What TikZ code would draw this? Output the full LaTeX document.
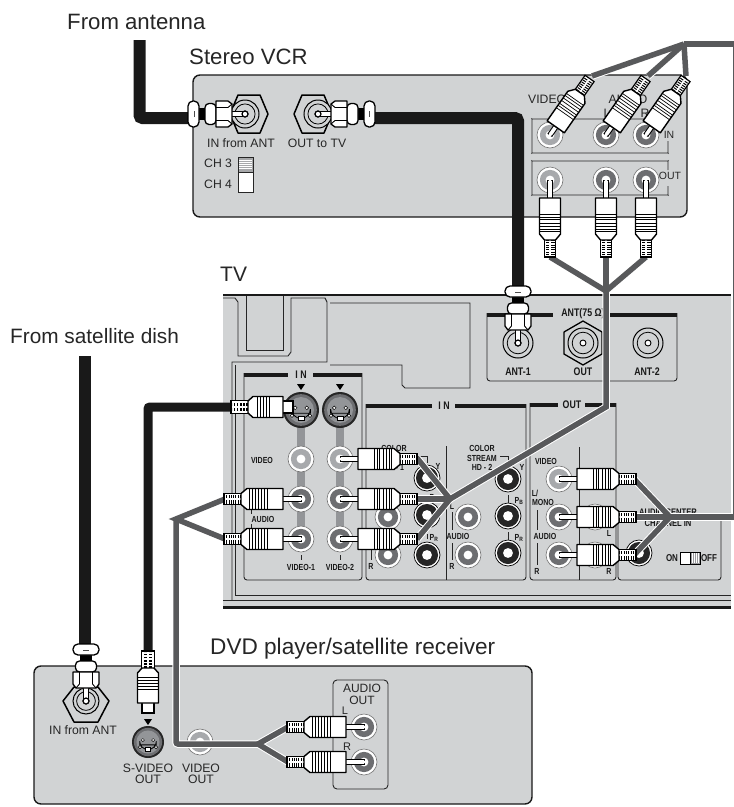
\documentclass[tikz,border=0pt]{standalone}
\usepackage{fontspec}
\setmainfont{Liberation Sans}
\newfontfamily\tvfont[FakeStretch=0.8]{Liberation Sans}
\definecolor{panel}{HTML}{D1D3D4}
\definecolor{cablegray}{HTML}{58595B}
\definecolor{ringlight}{HTML}{A7A9AC}
\definecolor{ringdark}{HTML}{6D6E71}
\definecolor{busgray}{HTML}{939598}
\tikzset{
  bigt/.style={inner sep=0,anchor=base west,font=\fontsize{22.2}{24}\selectfont,text=black!85},
  devt/.style={inner sep=0,font=\fontsize{12.2}{13}\selectfont,text=black!85,align=center},
  tvt/.style={inner sep=0,font=\fontsize{8.8}{9.2}\selectfont\tvfont\bfseries,text=black!90,align=center},
  tvb/.style={inner sep=0,font=\fontsize{11}{12}\selectfont\tvfont\bfseries,text=black!90},
  devbox/.style={fill=panel,draw=black!90,line width=1.4,rounded corners=7},
  subbox/.style={draw=black!85,line width=.9,rounded corners=2.5},
  band/.style={draw=black!90,line width=4.5},
  thin/.style={draw=black!85,line width=.9},
  cablehalo/.style={draw=white,line width=7.5,line join=miter},
  cablecore/.style={draw=cablegray,line width=5.5,line join=miter},
  coaxline/.style={draw=black!90,line width=12,rounded corners=3},
}
\newcommand\jackrca[4]{% x y r ringcolour
  \begin{scope}[shift={(#1,#2)}]
    \filldraw[fill=white,draw=black!55,line width=.6] (0,0) circle (#3);
    \fill[#4] (0,0) circle ({#3*.78});
    \fill[white] (0,0) circle ({#3*.34});
  \end{scope}}
\newcommand\jackblack[3]{% x y r
  \begin{scope}[shift={(#1,#2)}]
    \filldraw[fill=white,draw=black,line width=.7] (0,0) circle (#3);
    \fill[black!85] (0,0) circle ({#3*.85});
    \fill[white] (0,0) circle ({#3*.38});
  \end{scope}}
\newcommand\jacksv[3]{% x y r
  \begin{scope}[shift={(#1,#2)}]
    \fill[black!85] (0,0) circle (#3);
    \fill[ringdark] (0,0) circle ({#3*.88});
    \fill[busgray] (0,0) circle ({#3*.72});
    \draw[black,line width=.8] ({-#3*.52},{#3*.18}) -- ({-#3*.52},{-#3*.05}) arc (180:0:{#3*.52}) -- ({#3*.52},{#3*.18}) -- cycle;
    \filldraw[fill=white,draw=black,line width=.6] ({-#3*.16},{#3*.34}) rectangle ({#3*.16},{#3*.58});
    \foreach \sx/\sy in {-.32/-.12,.32/-.12,-.5/.32,.5/.32}
      \filldraw[fill=white,draw=black,line width=.5] ({\sx*#3},{\sy*#3}) circle ({#3*.1});
  \end{scope}}
\newcommand\jackring[3]{% x y r
  \begin{scope}[shift={(#1,#2)}]
    \filldraw[fill=panel,draw=black,line width=1] (0,0) circle (#3);
    \draw[black,line width=.8] (0,0) circle ({#3*.72});
    \filldraw[fill=white,draw=black,line width=.9] (0,0) circle (3);
  \end{scope}}
\newcommand\rcaplug[4]{% x y angle pin-length
  \begin{scope}[shift={(#1,#2)},rotate=#3]
    \pgfmathsetmacro\pp{#4}
    \filldraw[fill=white,draw=black,line width=.9] (0,-2.4) rectangle ({\pp+1},2.4);
    \fill[white] (0,0) circle (1.6);
    \filldraw[fill=white,draw=black,line width=1.2] ({\pp+41},-5.5) rectangle ({\pp+59},5.5);
    \draw[black,line width=9,dash pattern=on 1 off 1.3] ({\pp+42},0) -- ({\pp+58},0);
    \draw[white,line width=1.6] ({\pp+42},0) -- ({\pp+58},0);
    \filldraw[fill=white,draw=black,line width=1.4,line join=round]
      (\pp,-10.5) -- ({\pp+36},-10.5) -- ({\pp+42},-5.5) -- ({\pp+42},5.5) -- ({\pp+36},10.5) -- (\pp,10.5) -- cycle;
    \foreach \q in {16,19,21.5,25,28,31,33.5}
      \draw[black,line width=.7] ({\pp+\q},-10.5) -- ({\pp+\q},10.5);
  \end{scope}}
\newcommand\coaxplug[3]{% x y angle
  \begin{scope}[shift={(#1,#2)},rotate=#3]
    \fill[black] (39,-6) rectangle (47,6);
    \filldraw[fill=white,draw=black,line width=1.3,rounded corners=4] (29,-10.5) rectangle (40,10.5);
    \filldraw[fill=white,draw=black,line width=1.1] (0,-2.2) rectangle (14,2.2);
    \filldraw[fill=white,draw=black,line width=1.2] (0,0) circle (3);
    \filldraw[fill=white,draw=black,line width=1.3,line join=round]
      (13,-10) -- (17,-13) -- (29,-13) -- (29,13) -- (17,13) -- (13,10) -- cycle;
    \draw[black,line width=.9] (17,-6.5) -- (29,-6.5) (17,6.5) -- (29,6.5) (13,-10) -- (17,-6.5) (13,10) -- (17,6.5);
    \filldraw[fill=white,draw=black,line width=1.3,rounded corners=5] (46,-13) rectangle (57,13);
    \draw[black!70,line width=.7] (51,-3) -- (51,3);
  \end{scope}}
\newcommand\hexv[2]{% x y: vertices left/right
  \filldraw[fill=panel,draw=black,line width=1.5,line join=round,shift={(#1,#2)}]
    (-19,0) -- (-11,-19) -- (11,-19) -- (19,0) -- (11,19) -- (-11,19) -- cycle;}
\newcommand\svplug[4]{% x y angle tip-start
  \begin{scope}[shift={(#1,#2)},rotate=#3]
    \pgfmathsetmacro\pp{#4}
    \filldraw[fill=white,draw=black,line width=1.3] (\pp,-6) rectangle ({\pp+12},6);
    \filldraw[fill=white,draw=black,line width=1.2] ({\pp+44},-6.5) rectangle ({\pp+62},6.5);
    \draw[black,line width=8,dash pattern=on 1.6 off 1.6] ({\pp+45},0) -- ({\pp+61},0);
    \draw[white,line width=1.4] ({\pp+45},0) -- ({\pp+61},0);
    \filldraw[fill=white,draw=black,line width=1.4,line join=round]
      ({\pp+10},-10.5) -- ({\pp+40},-10.5) -- ({\pp+45},-6) -- ({\pp+45},6) -- ({\pp+40},10.5) -- ({\pp+10},10.5) -- cycle;
    \foreach \q in {24,27,30,33,36}
      \draw[black,line width=.7] ({\pp+\q},-10.5) -- ({\pp+\q},10.5);
  \end{scope}}
\begin{document}
\begin{tikzpicture}[x=1pt,y=-1pt]
\useasboundingbox (0,0) rectangle (734,807);
\clip (0,0) rectangle (734,807);
\fill[white] (0,0) rectangle (734,807);

% ===== coordinates for connector ends
\coordinate (ant0) at (139.5,40);
\coordinate (antc) at (139.5,118);
\coordinate (antf) at (190,118);
\coordinate (vcrout) at (372,118);
\coordinate (vcrc) at (518,118);
\coordinate (tvant) at (518,288);
\coordinate (sat0) at (85,356);
\coordinate (satf) at (85,648);
\coordinate (sv0) at (230,407);
\coordinate (svc) at (148,407);
\coordinate (sv1) at (148,652);
\coordinate (jtop) at (684,44);
\coordinate (jtopr) at (736,44);
\coordinate (jrc) at (736,517);
\coordinate (jout) at (670,517);
\coordinate (pv1) at (592,76);
\coordinate (pv2) at (648,76);
\coordinate (pv3) at (686,76);
\coordinate (po1) at (550,257);
\coordinate (po2) at (606,257);
\coordinate (po3) at (646,257);
\coordinate (jvcr) at (606,291);
\coordinate (jvcr2) at (606,407);
\coordinate (jcomp) at (450,499);
\coordinate (pc1) at (417,458);
\coordinate (pc2) at (417,499);
\coordinate (pc3) at (417,539);
\coordinate (pa1) at (225,499);
\coordinate (pa2) at (225,539);
\coordinate (jaud) at (176,519);
\coordinate (jdvdc) at (176,744);
\coordinate (jdvd) at (258,744);
\coordinate (pd1) at (288,727);
\coordinate (pd2) at (288,762);
\coordinate (pt1) at (634,479);
\coordinate (pt2) at (634,517);
\coordinate (pt3) at (634,555);

% ===== headings
\node[bigt] (h1) at (67,29) {From antenna};
\node[bigt] (h2) at (189,64) {Stereo VCR};
\node[bigt,font=\fontsize{21}{24}\selectfont] (h3) at (220,281) {TV};
\node[bigt,font=\fontsize{20.8}{24}\selectfont] (h4) at (10,343) {From satellite dish};
\node[bigt,font=\fontsize{22.6}{24}\selectfont] (h5) at (210,654) {DVD player/satellite receiver};

% ===== VCR
\path[devbox] (193,75) rectangle (687,217);
\node[devt] (v1) at (241,143) {IN from ANT};
\node[devt] (v2) at (317,143) {OUT to TV};
\node[devt,anchor=west] (v3) at (204,163) {CH 3};
\node[devt,anchor=west] (v4) at (204,184) {CH 4};
\filldraw[fill=white,draw=black!85,line width=.8] (238,157.5) rectangle (253,192);
\filldraw[fill=ringdark!60,draw=black!85,line width=.8] (238,157.5) rectangle (253,172);
\foreach \q in {160,162,164,166,168} \draw[white,line width=.5] (239,\q) -- (252,\q);
\node[devt,anchor=west] (v5) at (528,99) {VIDEO};
\node[devt] (v6) at (628,99) {AUDIO};
\node[devt] (v7) at (607,113) {L};
\node[devt] (v8) at (645,113) {R};
\draw[subbox] (668,141) -- (668,150.5) arc (0:90:2.5) -- (534.5,153) arc (90:180:2.5) -- (532,121.5) arc (180:270:2.5) -- (668,119);
\draw[subbox] (668,170) -- (668,163.5) arc (0:-90:2.5) -- (534.5,161) arc (-90:-180:2.5) -- (532,192.5) arc (180:90:2.5) -- (665.5,195) arc (90:0:2.5) -- (668,186);
\node[devt,font=\fontsize{10.5}{11}\selectfont] (v9) at (669,135) {IN};
\node[devt,font=\fontsize{10.5}{11}\selectfont] (v10) at (670,176) {OUT};
\jackrca{550}{135}{13}{ringlight}\jackrca{606}{135}{13}{ringdark}\jackrca{646}{135}{13}{ringdark}
\jackrca{550}{180}{13}{ringlight}\jackrca{606}{180}{13}{ringdark}\jackrca{646}{180}{13}{ringdark}
\begin{scope}[shift={(4,0)}]\hexv{245}{114}\end{scope}
\begin{scope}[shift={(-5,0)}]\hexv{318}{114}\end{scope}
\jackring{245}{114}{14}
\jackring{318}{114}{14}

% ===== TV panel
\fill[panel] (223,295) rectangle (731,607);
\draw[black!90,line width=2.5] (223,295) -- (731,295);
\draw[black!90,line width=3] (223,607) -- (731,607);
\draw[thin] (223,298) -- (235,298) -- (238,302) -- (238,356) -- (288,356) -- (291,352) -- (291,298) -- (325,298) -- (327,302) -- (327,362) -- (232,362) -- (232,600);
\draw[thin] (235,365) -- (235,595) -- (731,595);
\draw[thin] (223,600) -- (731,600);
\draw[thin] (246,296) -- (246,350) -- (283,350) -- (283,296);
\draw[thin] (330,303) -- (470,303) -- (470,388) -- (405,388) -- (402,385) -- (402,365) -- (330,365);

% ANT box
\draw[subbox,rounded corners=3] (487,313) -- (487,381) -- (677,381) -- (677,313);
\draw[band] (487,315) -- (553,315);
\draw[band] (608,315) -- (677,315);
\node[tvb] (t1) at (583,314) {ANT(75 Ω)};
\jackring{518}{343}{15}
\filldraw[fill=panel,draw=black,line width=1.3,line join=round] (583,321) -- (602,332) -- (602,354) -- (583,365) -- (564,354) -- (564,332) -- cycle;
\jackring{583}{343}{15}
\jackring{648}{343}{15}
\node[tvb] (t2) at (518,372) {ANT-1};
\node[tvb] (t3) at (583,372) {OUT};
\node[tvb] (t4) at (647,372) {ANT-2};

% video IN box
\draw[subbox,rounded corners=3] (244,373) -- (244,580) -- (362,580) -- (362,373);
\draw[band] (244,375) -- (288,375);
\draw[band] (313,375) -- (362,375);
\node[tvb] (t5) at (301,375) {I N};
\fill[black] (297,384) -- (305,384) -- (301,390) -- cycle;
\fill[black] (336,384) -- (344,384) -- (340,390) -- cycle;
\fill[busgray] (297,425) rectangle (305,539);
\fill[busgray] (336,425) rectangle (344,539);
\jacksv{301}{410}{18}\jacksv{340}{410}{18}
\jackrca{301}{459}{13}{ringlight}\jackrca{340}{459}{13}{ringlight}
\jackrca{301}{499}{13}{ringdark}\jackrca{340}{499}{13}{ringdark}
\jackrca{301}{539}{13}{ringdark}\jackrca{340}{539}{13}{ringdark}
\node[tvt] (t6) at (262,460) {VIDEO};
\node[tvt] (t7) at (263,519) {AUDIO};
\draw[thin] (251,510) -- (251,514) (251,524) -- (251,528);
\draw[thin] (301,555) -- (301,560) (340,555) -- (340,560);
\node[tvt] (t8) at (301,567) {VIDEO-1};
\node[tvt] (t9) at (340,567) {VIDEO-2};

% component IN box
\draw[subbox,rounded corners=3] (366,404) -- (366,580) -- (526,580) -- (526,404);
\draw[band] (366,406) -- (432,406);
\draw[band] (455,406) -- (526,406);
\node[tvb] (t10) at (444,406) {I N};
\draw[thin] (446,446) -- (446,580);
\node[tvt] (t11) at (394,458) {COLOR\\STREAM\\HD - 1};
\draw[thin] (417,456) -- (427,456) -- (427,463);
\node[tvt] (t12) at (438,466) {Y};
\jackrca{388}{517}{13}{ringdark}\jackrca{388}{555}{13}{ringdark}
\jackblack{427}{478}{13}\jackblack{427}{515}{13}\jackblack{427}{555}{13}
\draw[thin] (427,495) -- (427,500) (427,534) -- (427,539);
\node[tvt] (t13) at (434,498) {P\textsubscript{B}};
\node[tvt] (t14) at (434,538) {P\textsubscript{R}};
\node[tvt] (t15) at (371,566) {R};
\draw[thin] (371,536) -- (371,560);
\node[tvt] (t16) at (482,458) {COLOR\\STREAM\\HD - 2};
\draw[thin] (500,456) -- (508,456) -- (508,461);
\node[tvt] (t17) at (522,467) {Y};
\jackrca{468}{517}{13}{ringdark}\jackrca{468}{555}{13}{ringdark}
\jackblack{508}{479}{13}\jackblack{508}{516}{13}\jackblack{508}{553}{13}
\draw[thin] (508,495) -- (508,503) (508,532) -- (508,540);
\node[tvt] (t18) at (519,501) {P\textsubscript{B}};
\node[tvt] (t19) at (519,538) {P\textsubscript{R}};
\node[tvt] (t20) at (452,506) {L};
\node[tvt] (t21) at (458,536) {AUDIO};
\node[tvt] (t22) at (452,566) {R};
\draw[thin] (452,512) -- (452,530) (452,543) -- (452,560);

% OUT box
\draw[subbox,rounded corners=3] (530,403) -- (530,580) -- (616,580) -- (616,403);
\draw[band] (530,405) -- (558,405);
\draw[band] (585,405) -- (616,405);
\node[tvb] (t23) at (572,405) {OUT};
\draw[thin] (579,447) -- (579,580);
\node[tvt] (t24) at (546,461) {VIDEO};
\node[tvt] (t25) at (535,493) {L/};
\node[tvt] (t26) at (543,502) {MONO};
\draw[thin] (537,510) -- (537,530) (537,543) -- (537,565);
\node[tvt] (t27) at (545,536) {AUDIO};
\node[tvt] (t28) at (537,571) {R};
\jackrca{559}{479}{13}{ringlight}\jackrca{559}{517}{13}{ringdark}\jackrca{559}{555}{13}{ringdark}
\jackrca{595}{517}{13}{ringdark}\jackrca{595}{555}{13}{ringdark}
\node[tvt] (t29) at (609,533) {L};
\node[tvt] (t30) at (609,571) {R};

% center channel box
\draw[subbox,rounded corners=3] (618,514) -- (618,580) -- (721,580) -- (721,514) -- (702,514);
\draw[band,line width=1] (618,514) -- (624,514);
\node[tvt,font=\fontsize{9.5}{10.5}\selectfont\tvfont\bfseries] (t31) at (668,517.5) {AUDIO CENTER\\CHANNEL IN};
\jackblack{639}{553}{13}
\node[tvt,font=\fontsize{10}{11}\selectfont\tvfont\bfseries] (t32) at (672,558) {ON};
\filldraw[fill=white,draw=black,line width=1] (680,552) rectangle (700,564);
\filldraw[fill=ringdark!70,draw=black,line width=.8] (690,552) rectangle (700,564);
\foreach \q in {692,694,696,698} \draw[white,line width=.4] (\q,553) -- (\q,563);
\node[tvt,font=\fontsize{10}{11}\selectfont\tvfont\bfseries] (t33) at (709,558) {OFF};

% ===== DVD
\path[devbox] (34,666) rectangle (532,804);
\draw[subbox,rounded corners=4] (333,680) rectangle (388,789);
\node[devt,font=\fontsize{12}{13}\selectfont] (d1) at (362,694.5) {AUDIO\\[-1.5pt]OUT};
\node[devt,font=\fontsize{11}{12}\selectfont] (d2) at (345,711) {L};
\node[devt,font=\fontsize{11}{12}\selectfont] (d3) at (347,747) {R};
\jackrca{364}{727}{13}{ringdark}\jackrca{364}{762}{13}{ringdark}
\filldraw[fill=panel,draw=black,line width=1.5,line join=round] (63,701) -- (74,687) -- (98,687) -- (109,701) -- (98,722) -- (74,722) -- cycle;
\jackring{86}{701}{13}
\node[devt] (d4) at (83,730) {IN from ANT};
\fill[black] (144,719) -- (152,719) -- (148,725) -- cycle;
\jacksv{148}{742}{16}
\jackrca{200}{742}{13}{ringlight}
\node[devt] (d5) at (148,774) {S-VIDEO\\[-1.5pt]OUT};
\node[devt] (d6) at (201,774) {VIDEO\\[-1.5pt]OUT};

% ===== coax cables
\draw[coaxline] (ant0) -- (antc) -- (antf);
\draw[coaxline] (vcrout) -- (vcrc) -- (tvant);
\draw[coaxline,rounded corners=0] (sat0) -- (satf);
\draw[black!90,line width=9,rounded corners=2] (sv0) -- (svc) -- (sv1);

% ===== grey cables
\foreach \L/\W in {cablehalo/1,cablecore/1}{
  \draw[\L] (pv1) -- (jtop);
  \draw[\L] (pv2) -- (jtop);
  \draw[\L] (pv3) -- (jtop);
  \draw[\L] (jtop) -- (jtopr) -- (jrc) -- (jout);
  \draw[\L] (pt1) -- (jout) -- (pt3);
  \draw[\L] (pt2) -- (jout);
  \draw[\L] (po1) -- (jvcr) -- (po3);
  \draw[\L] (po2) -- (jvcr);
  \draw[\L] (jvcr) -- (jvcr2) -- (jcomp);
  \draw[\L] (pc1) -- (jcomp) -- (pc3);
  \draw[\L] (pc2) -- (jcomp);
  \draw[\L] (pa1) -- (jaud) -- (pa2);
  \draw[\L,rounded corners=2] (jaud) -- (jdvdc) -- (jdvd);
  \draw[\L] (pd1) -- (jdvd) -- (pd2);
}

% ===== plugs
\coaxplug{245}{114}{180}
\coaxplug{318}{114}{0}
\coaxplug{518}{343}{90}
\coaxplug{86}{701}{90}
\svplug{301}{407}{180}{8}
\svplug{148}{742}{90}{29}
\rcaplug{550}{135}{55}{10}
\rcaplug{606}{135}{55}{10}
\rcaplug{646}{135}{55}{10}
\rcaplug{550}{180}{-90}{18}
\rcaplug{606}{180}{-90}{18}
\rcaplug{646}{180}{-90}{18}
\rcaplug{340}{459}{0}{18}
\rcaplug{340}{499}{0}{18}
\rcaplug{340}{539}{0}{18}
\rcaplug{301}{499}{180}{18}
\rcaplug{301}{539}{180}{18}
\rcaplug{559}{479}{0}{18}
\rcaplug{559}{517}{0}{18}
\rcaplug{559}{555}{0}{18}
\rcaplug{364}{727}{180}{18}
\rcaplug{364}{762}{180}{18}
\end{tikzpicture}
\end{document}
